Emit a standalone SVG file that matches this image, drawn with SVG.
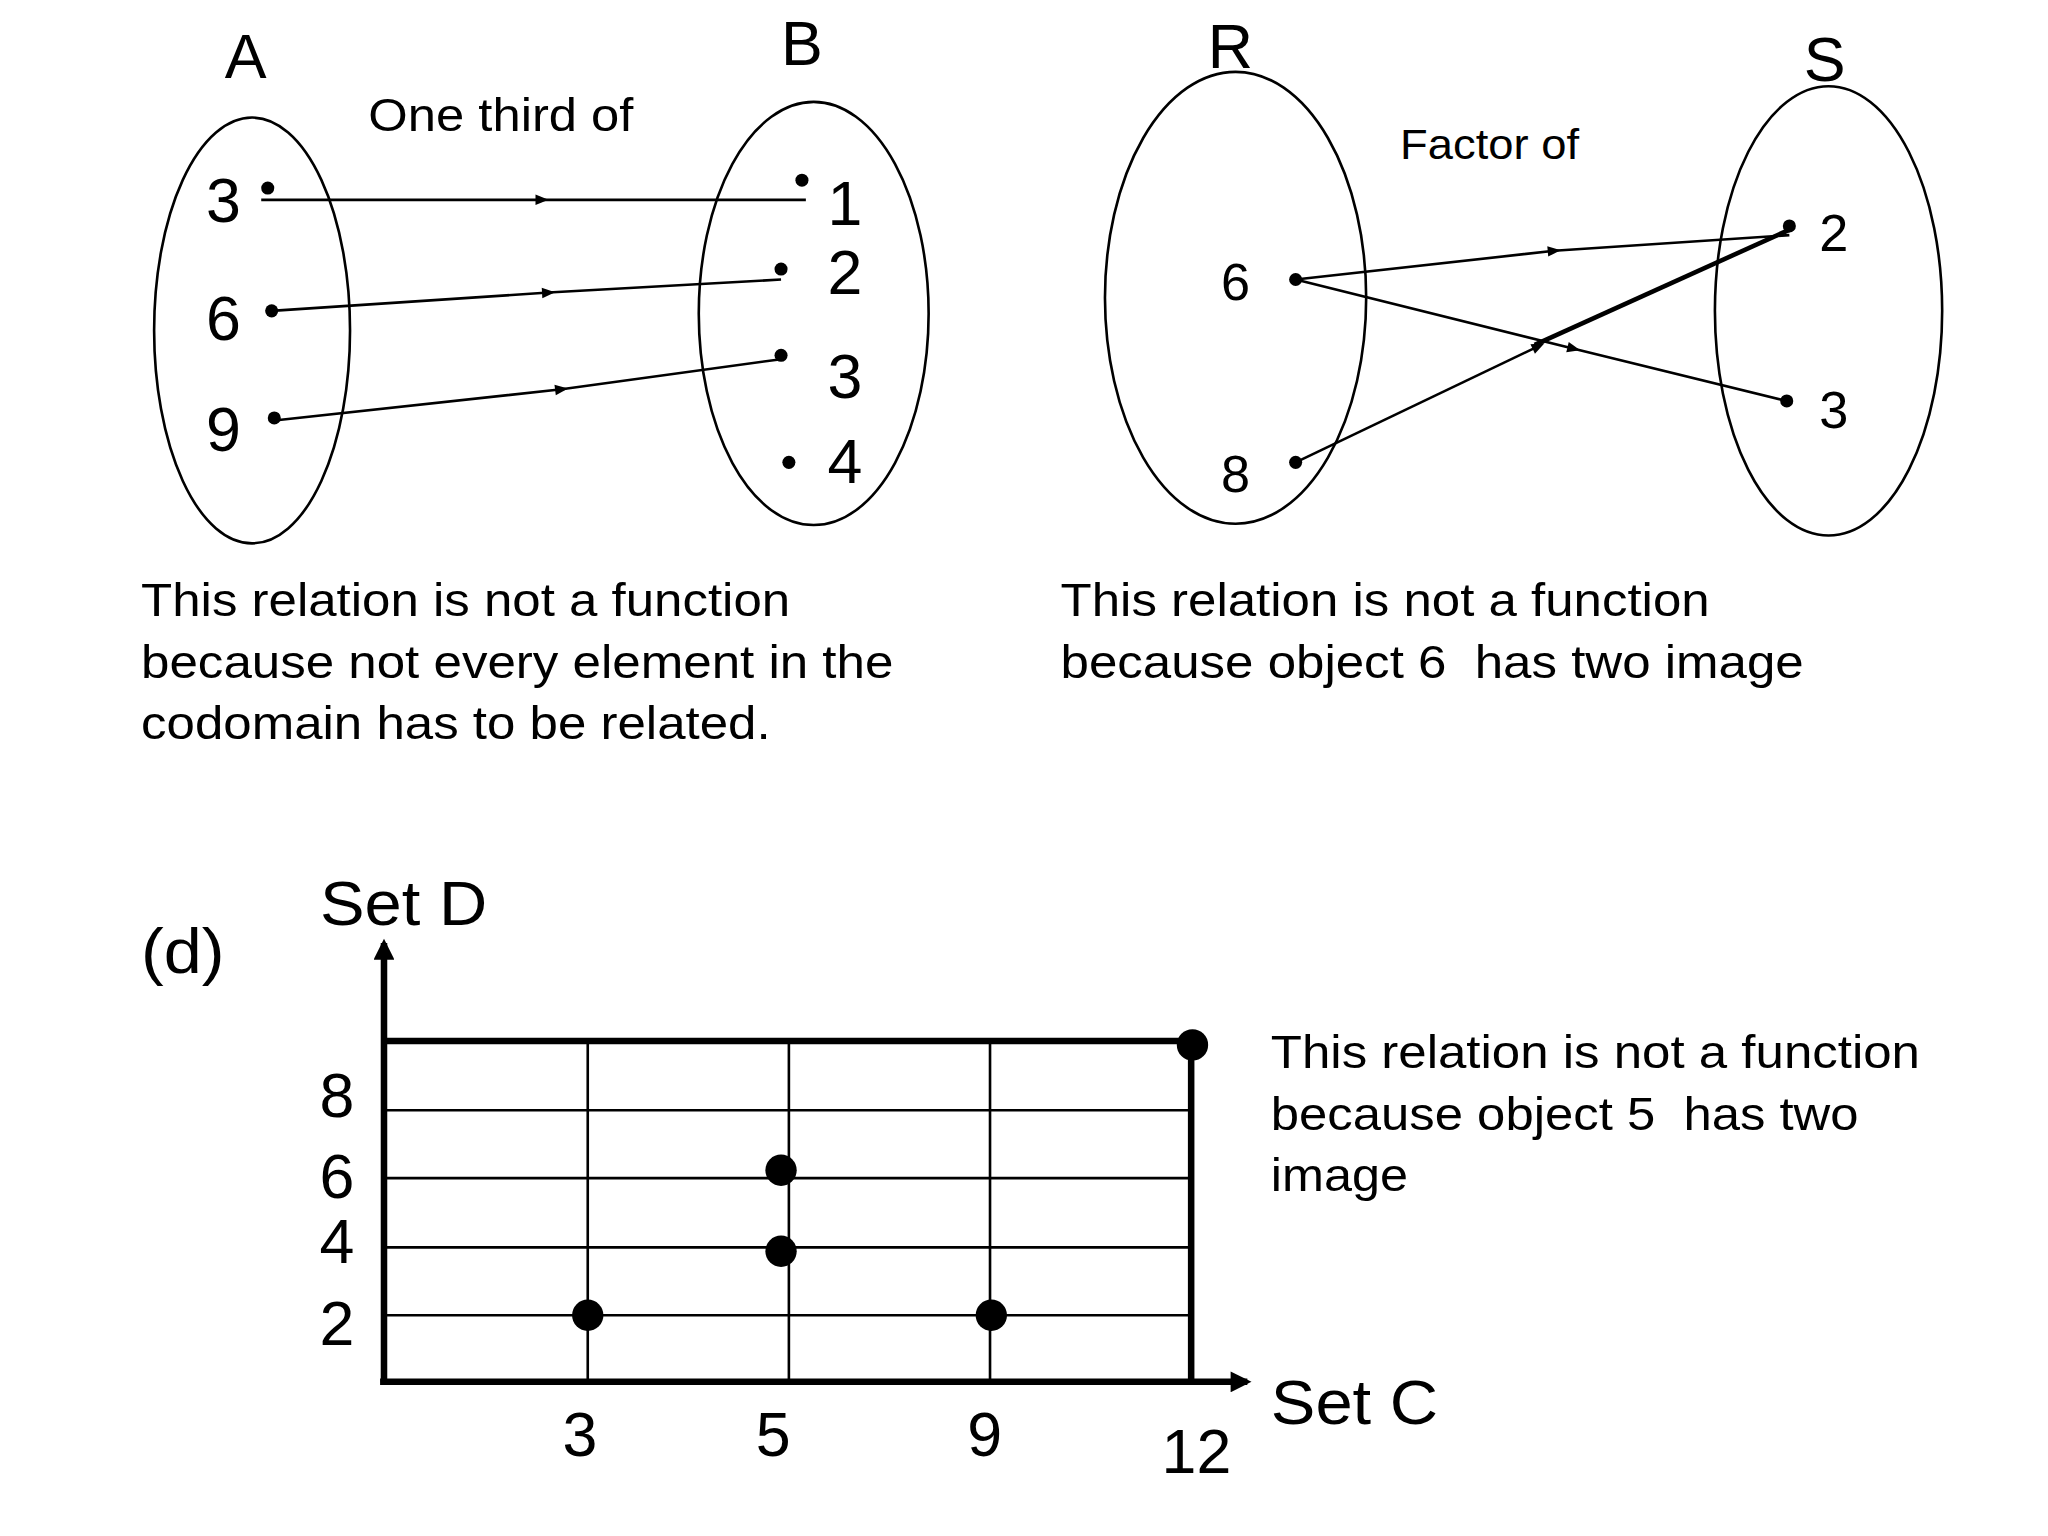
<svg xmlns="http://www.w3.org/2000/svg" width="2048" height="1536" viewBox="0 0 2048 1536">
<style>
text{font-family:"Liberation Sans",Arial,sans-serif;fill:#000;white-space:pre}
.big{font-size:48px}.mid{font-size:36px}
.e{fill:none;stroke:#000;stroke-width:2}
.c{stroke:#000;stroke-width:2;fill:none}
.g{stroke:#000;stroke-width:2}
.t{stroke:#000;stroke-width:5}
</style>
<defs>
<marker id="m" viewBox="0 0 10 10" refX="5" refY="5" markerWidth="14" markerHeight="10" markerUnits="userSpaceOnUse" orient="auto"><path d="M0,1 L10,5 L0,9 Z"/></marker>
<marker id="ax" viewBox="0 0 10 10" refX="8" refY="5" markerWidth="22" markerHeight="16" markerUnits="userSpaceOnUse" orient="auto"><path d="M0,0 L10,5 L0,10 Z"/></marker>
</defs>
<rect width="2048" height="1536" fill="#fff"/>
<g transform="scale(1.3061)">
<g id="setA"><ellipse class="e" cx="193" cy="253" rx="75" ry="163"/><text class="big" x="188" y="60" text-anchor="middle">A</text>
<circle cx="205" cy="144" r="5"/><text class="big" x="171" y="170" text-anchor="middle">3</text>
<circle cx="208" cy="238" r="5"/><text class="big" x="171" y="260" text-anchor="middle">6</text>
<circle cx="210" cy="320" r="5"/><text class="big" x="171" y="345" text-anchor="middle">9</text></g>
<g id="setB"><ellipse class="e" cx="623" cy="240" rx="88" ry="162"/><text class="big" x="614" y="50" text-anchor="middle">B</text>
<circle cx="614" cy="138" r="5"/><text class="big" x="647" y="172" text-anchor="middle">1</text>
<circle cx="598" cy="206" r="5"/><text class="big" x="647" y="225" text-anchor="middle">2</text>
<circle cx="598" cy="272" r="5"/><text class="big" x="647" y="305" text-anchor="middle">3</text>
<circle cx="604" cy="354" r="5"/><text class="big" x="647" y="370" text-anchor="middle">4</text></g>
<text x="282" y="100" font-size="36" textLength="203" lengthAdjust="spacingAndGlyphs">One third of</text>
<g id="setR"><ellipse class="e" cx="946" cy="228" rx="100" ry="173"/><text class="big" x="942" y="52" text-anchor="middle">R</text>
<circle cx="992" cy="214" r="5"/><text font-size="40" x="946" y="230" text-anchor="middle">6</text>
<circle cx="992" cy="354" r="5"/><text font-size="40" x="946" y="377" text-anchor="middle">8</text></g>
<g id="setS"><ellipse class="e" cx="1400" cy="238" rx="87" ry="172"/><text class="big" x="1397" y="62" text-anchor="middle">S</text>
<circle cx="1370" cy="173" r="5"/><text font-size="40" x="1404" y="192" text-anchor="middle">2</text>
<circle cx="1368" cy="307" r="5"/><text font-size="40" x="1404" y="328" text-anchor="middle">3</text></g>
<text x="1072" y="122" font-size="32" textLength="137" lengthAdjust="spacingAndGlyphs">Factor of</text>
<g id="connectors">
<path class="c" d="M200,153 L415,153 L617,153" marker-mid="url(#m)"/>
<path class="c" d="M208,238 L420,224 L598,214" marker-mid="url(#m)"/>
<path class="c" d="M210,322 L430,298 L598,275" marker-mid="url(#m)"/>
<path class="c" d="M992,214 L1190,192 L1370,180" marker-mid="url(#m)"/>
<path class="c" d="M992,214 L1205,267 L1368,307" marker-mid="url(#m)"/>
<path class="c" d="M992,354 L1178,265" marker-end="url(#m)"/>
<path stroke="#000" stroke-width="3.5" d="M1175,264 L1372,175"/>
</g>
<text class="mid" x="108" y="472" textLength="497" lengthAdjust="spacingAndGlyphs">This relation is not a function</text>
<text class="mid" x="108" y="519" textLength="576" lengthAdjust="spacingAndGlyphs">because not every element in the</text>
<text class="mid" x="108" y="566" textLength="482" lengthAdjust="spacingAndGlyphs">codomain has to be related.</text>
<text class="mid" x="812" y="472" textLength="497" lengthAdjust="spacingAndGlyphs">This relation is not a function</text>
<text class="mid" x="812" y="519" textLength="569" lengthAdjust="spacingAndGlyphs">because object 6  has two image</text>
<g id="graph">
<line class="g" x1="296" y1="850" x2="912" y2="850"/><line class="g" x1="296" y1="902" x2="912" y2="902"/>
<line class="g" x1="296" y1="955" x2="912" y2="955"/><line class="g" x1="296" y1="1007" x2="912" y2="1007"/>
<line class="g" x1="450" y1="797" x2="450" y2="1058"/><line class="g" x1="604" y1="797" x2="604" y2="1058"/><line class="g" x1="758" y1="797" x2="758" y2="1058"/>
<line class="t" x1="296" y1="797" x2="912" y2="797"/><line class="t" x1="912" y1="797" x2="912" y2="1058"/>
<line class="t" x1="294" y1="1058" x2="294" y2="722" marker-end="url(#ax)"/>
<line class="t" x1="291" y1="1058" x2="955" y2="1058" marker-end="url(#ax)"/>
<circle cx="913" cy="800" r="12"/><circle cx="598" cy="896" r="12"/><circle cx="598" cy="958" r="12"/><circle cx="450" cy="1007" r="12"/><circle cx="759" cy="1007" r="12"/>
<text class="big" x="258" y="855" text-anchor="middle">8</text><text class="big" x="258" y="917" text-anchor="middle">6</text>
<text class="big" x="258" y="967" text-anchor="middle">4</text><text class="big" x="258" y="1030" text-anchor="middle">2</text>
<text class="big" x="444" y="1115" text-anchor="middle">3</text><text class="big" x="592" y="1115" text-anchor="middle">5</text>
<text class="big" x="754" y="1115" text-anchor="middle">9</text><text class="big" x="916" y="1128" text-anchor="middle">12</text>
<text class="big" x="245" y="708" textLength="128" lengthAdjust="spacingAndGlyphs">Set D</text>
<text class="big" x="108" y="745" textLength="64" lengthAdjust="spacingAndGlyphs">(d)</text>
<text class="big" x="973" y="1090" textLength="128" lengthAdjust="spacingAndGlyphs">Set C</text>
</g>
<text class="mid" x="973" y="818" textLength="497" lengthAdjust="spacingAndGlyphs">This relation is not a function</text>
<text class="mid" x="973" y="865" textLength="450" lengthAdjust="spacingAndGlyphs">because object 5  has two</text>
<text class="mid" x="973" y="912" textLength="105" lengthAdjust="spacingAndGlyphs">image</text>
</g>
</svg>
